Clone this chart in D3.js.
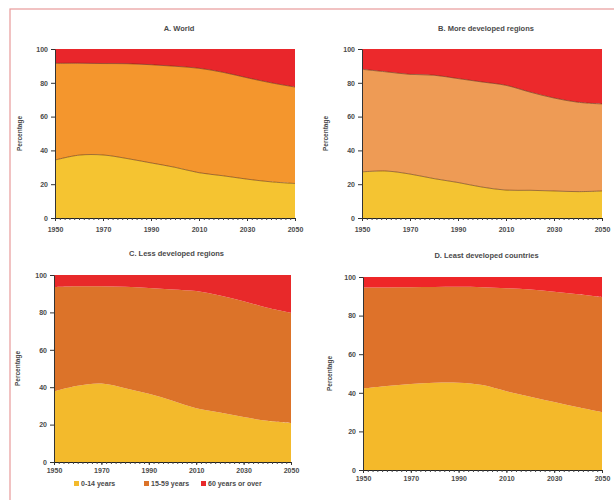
<!DOCTYPE html>
<html>
<head>
<meta charset="utf-8">
<script src="https://cdn.jsdelivr.net/npm/d3@7/dist/d3.min.js"></script>
<style>
  body { margin: 0; background: #fff; }
  text { font-family: "Liberation Sans", Arial, sans-serif; }
</style>
</head>
<body>
<svg id="chart" width="614" height="500"></svg>
<script>
// ---- DATA ----
const years = [1950, 1960, 1970, 1980, 1990, 2000, 2010, 2020, 2030, 2040, 2050];
const xTickLabels = [1950, 1970, 1990, 2010, 2030, 2050];
const yTickLabels = [0, 20, 40, 60, 80, 100];
const seriesNames = ["0-14 years", "15-59 years", "60 years or over"];
const panelTitles = ["A. World", "B. More developed regions", "C. Less developed regions", "D. Least developed countries"];

// share of population aged 0-14 (%)
const worldYoung   = [34.3, 37.2, 37.3, 35.2, 32.6, 30.0, 26.8, 25.0, 23.0, 21.4, 20.4];
const moreDevYoung = [27.3, 27.8, 26.0, 23.3, 21.0, 18.3, 16.5, 16.4, 16.0, 15.6, 16.0];
const lessDevYoung = [37.8, 40.8, 42.0, 39.5, 36.5, 32.8, 28.8, 26.5, 24.0, 22.0, 20.8];
const leastDevYoung= [42.2, 43.5, 44.5, 45.2, 45.2, 44.0, 40.8, 38.0, 35.2, 32.5, 30.0];
// share of population aged 60 or over (%)
const worldOld     = [8.5, 8.4, 8.6, 8.7, 9.3, 10.2, 11.4, 13.8, 17.0, 20.0, 22.5];
const moreDevOld   = [12.0, 13.5, 15.0, 15.5, 17.5, 19.5, 21.5, 25.5, 29.0, 31.5, 32.5];
const lessDevOld   = [6.4, 6.0, 6.0, 6.3, 7.0, 7.7, 8.6, 11.0, 14.0, 17.5, 20.2];
const leastDevOld  = [5.5, 5.4, 5.3, 5.2, 5.1, 5.3, 5.8, 6.5, 7.6, 9.0, 10.5];

// ---- LAYOUT / STYLE ----
const panels = [
  { title: panelTitles[0], young: worldYoung, old: worldOld,
    box: {x0: 55, x1: 295, y0: 49, y1: 218}, titleY: 31, labelX: 22, xPad: 6,
    colors: ["#F5C431", "#F4962D", "#E9262B"], edge: true },
  { title: panelTitles[1], young: moreDevYoung, old: moreDevOld,
    box: {x0: 362, x1: 602, y0: 49, y1: 218}, titleY: 31, labelX: 328, xPad: 6,
    colors: ["#F4C432", "#EE9B55", "#EC292C"], edge: true },
  { title: panelTitles[2], young: lessDevYoung, old: lessDevOld,
    box: {x0: 54, x1: 291, y0: 275, y1: 462}, titleY: 256, labelX: 20, xPad: 3,
    colors: ["#F3BA2C", "#DC7329", "#E8292A"], edge: false },
  { title: panelTitles[3], young: leastDevYoung, old: leastDevOld,
    box: {x0: 363, x1: 602, y0: 277, y1: 470}, titleY: 258, labelX: 332, xPad: 3,
    colors: ["#F4B92A", "#DE722A", "#EE2628"], edge: false }
];

const svg = d3.select("#chart");

// frame
svg.append("rect").attr("x", 10).attr("y", 9).attr("width", 640).attr("height", 520)
  .attr("fill", "none").attr("stroke", "#E89A9A").attr("stroke-width", 1.2);

const curve = d3.curveCatmullRom.alpha(0.5);

panels.forEach(p => {
  const b = p.box;
  const x = d3.scaleLinear().domain([1950, 2050]).range([b.x0, b.x1]);
  const y = d3.scaleLinear().domain([0, 100]).range([b.y1, b.y0]);
  const rows = years.map((yr, i) => ({ year: yr, young: p.young[i], work: 100 - p.young[i] - p.old[i], old: p.old[i] }));
  const stack = d3.stack().keys(["young", "work", "old"])(rows);
  const area = d3.area().curve(curve)
    .x(d => x(d.data.year)).y0(d => y(d[0])).y1(d => y(d[1]));
  const g = svg.append("g");
  g.selectAll("path.layer").data(stack).join("path")
    .attr("class", "layer")
    .attr("fill", (d, i) => p.colors[i])
    .attr("d", area);
  if (p.edge) {
    const line = d3.line().curve(curve).x(d => x(d.data.year)).y(d => y(d[1]));
    g.selectAll("path.edge").data(stack.slice(0, 2)).join("path")
      .attr("class", "edge").attr("fill", "none")
      .attr("stroke", "#5a2e0a").attr("stroke-opacity", 0.55).attr("stroke-width", 1)
      .attr("d", line);
  }

  // y axis
  const ya = g.append("g").attr("transform", `translate(${b.x0},0)`)
    .call(d3.axisLeft(y).tickValues(yTickLabels).tickSize(4).tickPadding(3).tickSizeOuter(0));
  ya.select(".domain").attr("stroke", "#333");
  ya.selectAll("line").attr("stroke", "#333");
  ya.selectAll("text").attr("font-size", 7).attr("font-weight", "bold").attr("fill", "#4a4a4a");

  // x axis minor ticks
  const xm = g.append("g").attr("transform", `translate(0,${b.y1})`)
    .call(d3.axisBottom(x).tickValues(d3.range(1950, 2051, 2)).tickSize(2).tickFormat("").tickSizeOuter(0));
  xm.select(".domain").attr("stroke", "#222").attr("stroke-width", 1.2);
  xm.selectAll("line").attr("stroke", "#444");
  // x axis major labels
  const xa = g.append("g").attr("transform", `translate(0,${b.y1})`)
    .call(d3.axisBottom(x).tickValues(xTickLabels).tickFormat(d3.format("d")).tickSize(3).tickPadding(p.xPad).tickSizeOuter(0));
  xa.select(".domain").remove();
  xa.selectAll("line").attr("stroke", "#333");
  xa.selectAll("text").attr("font-size", 7).attr("font-weight", "bold").attr("fill", "#4a4a4a");

  // title
  g.append("text").attr("x", (b.x0 + b.x1) / 2 + 4).attr("y", p.titleY)
    .attr("text-anchor", "middle").attr("font-size", 7.5).attr("font-weight", "bold").attr("fill", "#4a4a4a")
    .text(p.title);
  // y label
  g.append("text").attr("transform", `translate(${p.labelX},${(b.y0 + b.y1) / 2}) rotate(-90)`)
    .attr("text-anchor", "middle").attr("font-size", 6.5).attr("font-weight", "bold").attr("fill", "#4a4a4a")
    .text("Percentage");
});

// legend (under panel C)
const legendColors = panels[2].colors;
const legendX = [74, 144, 201];
const lg = svg.append("g");
seriesNames.forEach((name, i) => {
  lg.append("rect").attr("x", legendX[i]).attr("y", 481).attr("width", 5).attr("height", 5).attr("fill", legendColors[i]);
  lg.append("text").attr("x", legendX[i] + 7).attr("y", 486).attr("font-size", 7).attr("font-weight", "bold").attr("fill", "#4a4a4a").text(name);
});
</script>
</body>
</html>
